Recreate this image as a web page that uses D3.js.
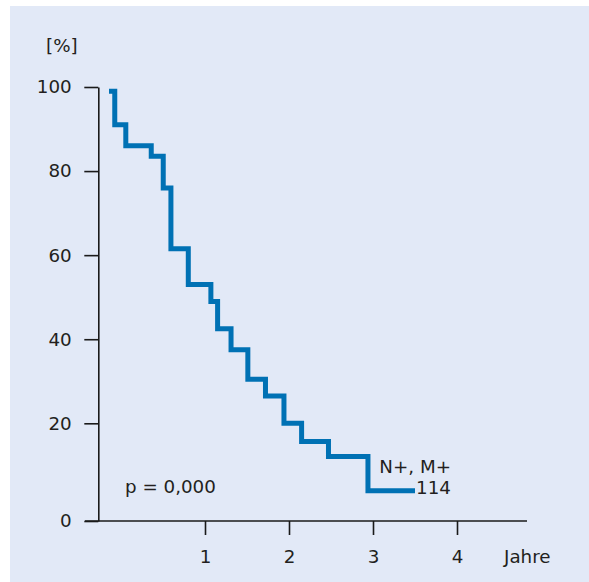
<!DOCTYPE html>
<html>
<head>
<meta charset="utf-8">
<script src="https://cdn.jsdelivr.net/npm/d3@7"></script>
<style>
  body { margin: 0; background: #fff; }
  text { font-family: "DejaVu Sans", sans-serif; fill: #231f20; }
</style>
</head>
<body>
<div class="chart"></div>
<script>
// survival curve
var years = [0, 0.06, 0.175, 0.44, 0.565, 0.645, 0.826, 1.07, 1.15, 1.31, 1.51, 1.72, 1.94, 2.15, 2.47, 2.94, 3.5];
var survival = [99, 91, 86, 83.5, 76, 61.5, 53, 49, 42.5, 37.5, 30.5, 26.5, 20, 16.3, 13.2, 6.2, 6.2];
var yTicks = [0, 20, 40, 60, 80, 100];
var xTicks = [1, 2, 3, 4];
var groupLabel = ["N+, M+", "114"];
var pLabel = "p = 0,000";

var svgWidth = 589;
var svgHeight = 582;

var svg = d3.select(".chart")
  .append("svg")
  .attr("width", svgWidth)
  .attr("height", svgHeight);

// light blue panel
svg.append("rect")
  .attr("x", 10)
  .attr("y", 6)
  .attr("width", svgWidth - 10)
  .attr("height", svgHeight - 6)
  .attr("fill", "#e2e9f7");

// the original axes are stretched a bit near the origin
var x = d3.scaleLinear()
  .domain([0, 1, 4])
  .range([109, 205, 457]);

var y = d3.scaleLinear()
  .domain([0, 20, 100])
  .range([521, 423.3, 87]);

var axisX = 98.3;
var fontSize = 18.3;

// y axis
var leftAxis = d3.axisLeft(y)
  .tickValues(yTicks)
  .tickSize(14)
  .tickSizeOuter(0)
  .tickPadding(12.6);

var gy = svg.append("g")
  .attr("transform", `translate(${axisX}, 0)`)
  .call(leftAxis);

gy.selectAll("path, line")
  .attr("stroke", "#1a1a1a")
  .attr("stroke-width", 1.6);
gy.selectAll("text")
  .attr("font-size", fontSize)
  .attr("font-family", "DejaVu Sans, sans-serif")
  .attr("fill", "#231f20");

// x axis
var bottomAxis = d3.axisBottom(x)
  .tickValues(xTicks)
  .tickFormat(d3.format("d"))
  .tickSize(14)
  .tickSizeOuter(0)
  .tickPadding(15);

var gx = svg.append("g")
  .attr("transform", `translate(0, ${y(0)})`)
  .call(bottomAxis);

gx.select(".domain").remove();
gx.append("line")
  .attr("x1", 85)
  .attr("x2", 527)
  .attr("stroke", "#1a1a1a")
  .attr("stroke-width", 1.6);
gx.selectAll("line")
  .attr("stroke", "#1a1a1a")
  .attr("stroke-width", 1.6);
gx.selectAll("text")
  .attr("font-size", fontSize)
  .attr("font-family", "DejaVu Sans, sans-serif")
  .attr("fill", "#231f20");

// axis titles
svg.append("text")
  .attr("x", 504)
  .attr("y", 563)
  .attr("font-size", fontSize)
  .text("Jahre");

svg.append("text")
  .attr("x", 46)
  .attr("y", 52)
  .attr("font-size", fontSize)
  .text("[%]");

// the step curve
var curve = years.map(function(t, i) {
  return { t: t, s: survival[i] };
});

var line = d3.line()
  .x(d => x(d.t))
  .y(d => y(d.s))
  .curve(d3.curveStepAfter);

svg.append("path")
  .datum(curve)
  .attr("d", line)
  .attr("fill", "none")
  .attr("stroke", "#0071b4")
  .attr("stroke-width", 5)
  .attr("stroke-linejoin", "miter");

// labels
var last = curve[curve.length - 1];
svg.append("text")
  .attr("x", x(last.t) + 36)
  .attr("y", 473)
  .attr("text-anchor", "end")
  .attr("font-size", fontSize)
  .text(groupLabel[0]);

svg.append("text")
  .attr("x", x(last.t) + 36)
  .attr("y", 494)
  .attr("text-anchor", "end")
  .attr("font-size", fontSize)
  .text(groupLabel[1]);

svg.append("text")
  .attr("x", 125)
  .attr("y", 493)
  .attr("font-size", fontSize)
  .text(pLabel);
</script>
</body>
</html>
